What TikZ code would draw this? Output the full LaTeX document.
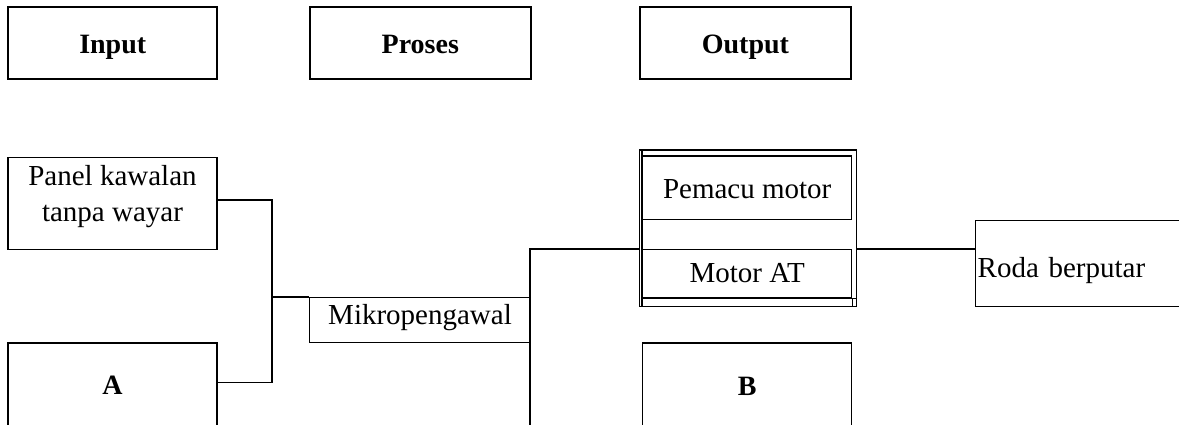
\documentclass[tikz,border=0pt]{standalone}
\usepackage{fontspec}
\setmainfont{Liberation Serif}
\begin{document}
\begin{tikzpicture}[x=1pt,y=-1pt,
  box/.style={draw, line width=1.4pt, rectangle, inner sep=0pt, anchor=north west,
    font=\fontsize{29}{36}\selectfont, text depth=0pt},
  headbox/.style={box, line width=1.9pt, font=\fontsize{28}{34}\selectfont\bfseries,
    minimum width=#1, minimum height=71.7pt, text height=21.7pt},
  wire/.style={line width=1.4pt}]
\useasboundingbox (0,0) rectangle (1179,425);
\clip (0,0) rectangle (1179,425);

% column headings
\node[headbox=209pt]   (input)  at (7.3,6.3)   {Input};
\node[headbox=221.3pt] (proses) at (308.7,6.3) {Proses};
\node[headbox=211pt]   (output) at (639,6.3)   {Output};

% input side
\node[box, minimum width=209pt, minimum height=92pt, align=center, text height=36pt]
  (panel) at (7.3,157) {Panel kawalan\\tanpa wayar};
\node[box, minimum width=209pt, minimum height=100pt, text height=3.4pt,
  font=\fontsize{28}{34}\selectfont\bfseries] (a) at (7.3,342.3) {A};

% controller
\node[box, minimum width=221.3pt, minimum height=45pt, text height=9pt]
  (mikro) at (308.7,297) {Mikropengawal};

% output unit: driver and DC motor in a framed group
\node[box, minimum width=216.5pt, minimum height=156pt] (unit) at (639,149.5) {};
\node[box, minimum width=209pt, minimum height=63.5pt, text height=21.5pt]
  (pemacu) at (642,155.5) {Pemacu motor};
\node[box, minimum width=209pt, minimum height=48pt, text height=18pt]
  (motor) at (642,249) {Motor AT};
\draw[wire] (pemacu.west |- unit.north) -- (pemacu.west |- unit.south);
\draw[wire] (motor.south west) -- (motor.south -| unit.east);
\draw[wire] (motor.south east) -- (motor.east |- unit.south);

\node[box, minimum width=209pt, minimum height=100pt, text height=5.4pt,
  font=\fontsize{28}{34}\selectfont\bfseries] (b) at (642,342.3) {B};

\node[box, text width=226pt, inner xsep=2pt, align=left, minimum height=86pt,
  text height=28pt] (roda) at (975,220) {Roda berputar};

% connectors
\coordinate (bus) at (272,297);
\coordinate (tap) at (530,249);
\coordinate (tapend) at (530,440);
\draw[wire] ([yshift=-43pt]panel.north east) -| (bus) |- ([yshift=-40pt]a.north east);
\draw[wire] (bus) -- (mikro.north west);
\draw[wire] (tapend) -- (tap) -- (tap -| unit.west);
\draw[wire] (motor.north -| unit.east) -- (motor.north -| roda.west);
\end{tikzpicture}
\end{document}
